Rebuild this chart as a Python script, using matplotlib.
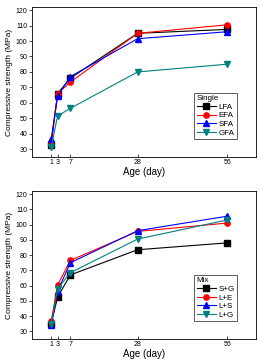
import matplotlib
matplotlib.use('Agg')
import matplotlib.pyplot as plt

plt.rcParams['font.family'] = ['Liberation Sans', 'DejaVu Sans']

ages = [1, 3, 7, 28, 56]

single_names = ['LFA', 'EFA', 'SFA', 'GFA']
single_values = [
    [33, 66, 76, 105, 107.5],
    [35, 66, 73.5, 105, 110.5],
    [36.5, 64.5, 77, 101.5, 106],
    [31.5, 51.5, 56.5, 80, 85],
]

mix_names = ['S+G', 'L+E', 'L+S', 'L+G']
mix_values = [
    [35, 52.5, 67, 83.5, 88],
    [36.5, 60.5, 76.5, 95.5, 101],
    [34.5, 56.5, 75, 96, 105.5],
    [35, 58, 68.5, 90.5, 103],
]

colors = ['black', '#ff0000', '#0000ff', '#008080']
markers = ['s', 'o', '^', 'v']
yticks = list(range(30, 121, 10))


def draw(ax, names, values, title):
    for name, vals, c, m in zip(names, values, colors, markers):
        ax.plot(ages, vals, color=c, marker=m, markersize=3.8, linewidth=0.8,
                label=name)
    ax.set_xlim(-5, 65)
    ax.set_ylim(25, 122)
    ax.set_xticks(ages)
    ax.set_yticks(yticks)
    ax.tick_params(labelsize=5, length=2, width=0.5, pad=1.5)
    ax.tick_params(axis='x', direction='in')
    for s in ax.spines.values():
        s.set_linewidth(0.6)
    ax.set_xlabel('Age (day)', fontsize=7, labelpad=1)
    ax.set_ylabel('Compressive strength (MPa)', fontsize=6, labelpad=2)
    leg = ax.legend(title=title, fontsize=5.8, title_fontsize=5.8,
                    loc='lower right', bbox_to_anchor=(0.915, 0.12),
                    fancybox=False, edgecolor='#444444', framealpha=1,
                    borderpad=0.3, labelspacing=0.12, handlelength=2.4,
                    handletextpad=0.3, borderaxespad=0)
    leg._legend_box.align = 'left'
    leg.get_frame().set_linewidth(0.6)


fig = plt.figure(figsize=(2.6, 3.62), dpi=100)
ax1 = fig.add_axes([32 / 260, 1 - 157 / 362, 224 / 260, 150 / 362])
ax2 = fig.add_axes([32 / 260, 1 - 339 / 362, 224 / 260, 148 / 362])

draw(ax1, single_names, single_values, 'Single')
draw(ax2, mix_names, mix_values, 'Mix')

fig.savefig('out.png', dpi=100)
